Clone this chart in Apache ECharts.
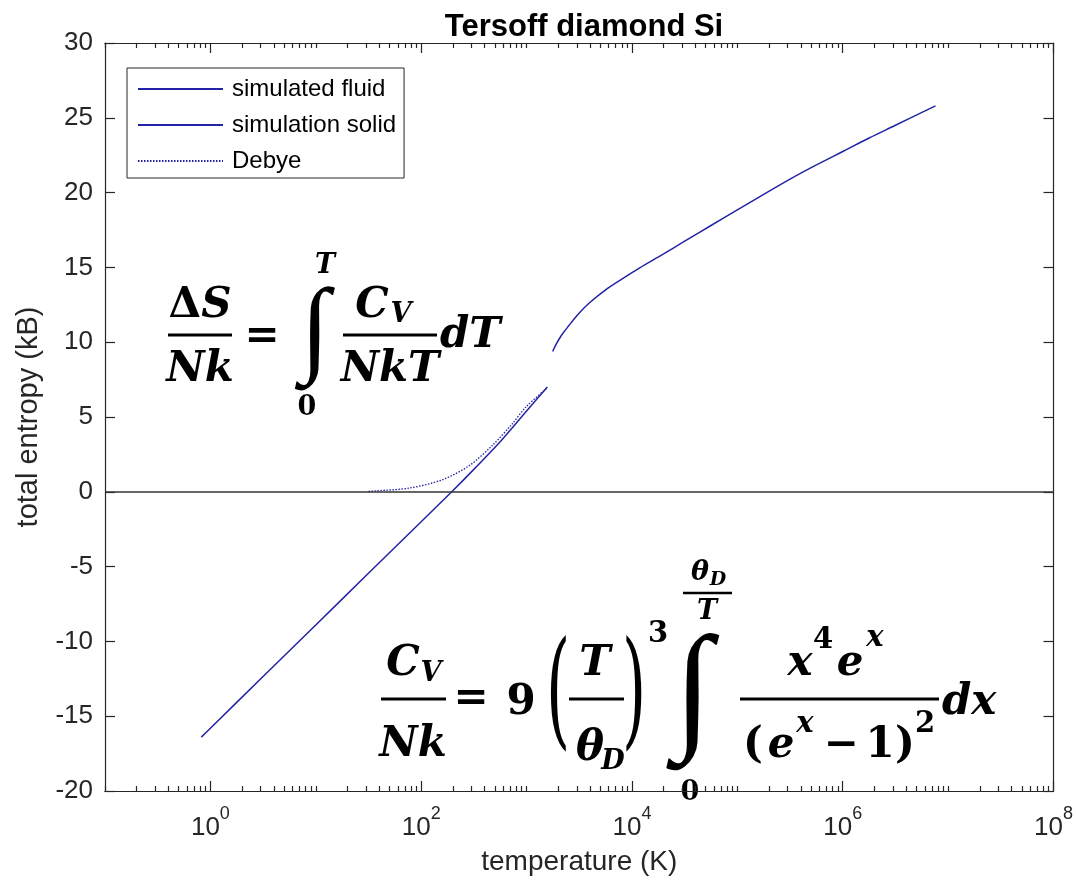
<!DOCTYPE html>
<html>
<head>
<meta charset="utf-8">
<script src="https://cdn.jsdelivr.net/npm/echarts@6/dist/echarts.min.js"></script>
<style>
  html, body { margin: 0; padding: 0; background: #fff; }
  #chart { width: 1076px; height: 892px; }
</style>
</head>
<body>
<div id="chart"></div>
<script>
// Temperature (K) and total entropy (kB) of each curve
const solidT = [0.82, 1, 3.16, 10, 31.6, 100, 195, 316, 562, 1000, 1575];
const solidS = [-16.4, -15.8, -12.35, -8.9, -5.45, -2.0, 0, 1.5, 3.35, 5.4, 7.0];

const fluidT = [1770, 1905, 2138, 2512, 3162, 3981, 5623, 7943, 11749, 19953, 31623, 56234, 100000,
                177828, 316228, 562341, 1000000, 1778279, 3162278, 7585776];
const fluidS = [9.38, 9.85, 10.45, 11.1, 11.95, 12.65, 13.5, 14.2, 14.95, 15.9, 16.75, 17.8, 18.85,
                19.88, 20.9, 21.85, 22.75, 23.65, 24.5, 25.8];

const debyeT = [31.6, 38.5, 77.6, 158, 286, 473, 733, 995, 1574];
const debyeS = [0.03, 0.07, 0.25, 0.8, 1.75, 3.1, 4.55, 5.7, 6.95];

// Axis extents: x in decades (log10 of temperature), y in kB
const xDecadeMin = -1;
const xDecadeMax = 8;
const xLabelExponents = [0, 2, 4, 6, 8];
const yMin = -20;
const yMax = 30;
const yStep = 5;

const seriesNames = ['simulated fluid', 'simulation solid', 'Debye'];
const titleText = 'Tersoff diamond Si';
const xTitle = 'temperature (K)';
const yTitle = 'total entropy (kB)';

const AXIS_COLOR = '#262626';
const LINE_COLOR = '#2323a6';
const SANS = '"Liberation Sans", Arial, Helvetica, sans-serif';
const EQ_FONT = '"DejaVu Serif", serif';
const INT_FONT = '"Liberation Serif", serif';

const toXY = (ts, ss) => ts.map((t, i) => [Math.log10(t), ss[i]]);

// Major ticks at labelled decades, minor ticks at every k*10^n elsewhere
const majorTicks = xLabelExponents.slice();
const minorTicks = [];
for (let n = xDecadeMin; n < xDecadeMax; n++) {
  for (let k = 1; k <= 9; k++) {
    const v = n + Math.log10(k);
    if (k === 1 && majorTicks.includes(n)) continue;
    minorTicks.push(v);
  }
}

function xAxisDef(position, ticks, len, withLabels) {
  return {
    type: 'value',
    position: position,
    min: xDecadeMin,
    max: xDecadeMax,
    interval: 1,
    axisLine: { show: true, onZero: false, lineStyle: { color: AXIS_COLOR, width: 1.2 } },
    axisTick: { show: true, inside: true, length: len, customValues: ticks, lineStyle: { color: AXIS_COLOR, width: 1.2 } },
    axisLabel: withLabels ? {
      show: true,
      customValues: xLabelExponents,
      margin: 14,
      formatter: v => '{b|10}{s|' + Math.round(v) + '}',
      rich: {
        b: { fontFamily: SANS, fontSize: 26, color: AXIS_COLOR, verticalAlign: 'bottom', lineHeight: 26 },
        s: { fontFamily: SANS, fontSize: 18, color: AXIS_COLOR, verticalAlign: 'top', lineHeight: 36 }
      }
    } : { show: false },
    splitLine: { show: false },
    name: withLabels ? xTitle : '',
    nameLocation: 'middle',
    nameGap: 57,
    nameTextStyle: { fontFamily: SANS, fontSize: 28, color: AXIS_COLOR }
  };
}

function yAxisDef(position, withLabels) {
  return {
    type: 'value',
    position: position,
    min: yMin,
    max: yMax,
    interval: yStep,
    axisLine: { show: true, onZero: false, lineStyle: { color: AXIS_COLOR, width: 1.2 } },
    axisTick: { show: true, inside: true, length: 10, lineStyle: { color: AXIS_COLOR, width: 1.2 } },
    axisLabel: withLabels ? { show: true, margin: 12, fontFamily: SANS, fontSize: 26, color: AXIS_COLOR } : { show: false },
    splitLine: { show: false },
    name: withLabels ? yTitle : '',
    nameLocation: 'middle',
    nameGap: 62,
    nameTextStyle: { fontFamily: SANS, fontSize: 29, color: AXIS_COLOR }
  };
}

// ---- Equation text, built from positioned pieces ----
function txt(str, x, y, size, italic, align, weight, family) {
  return {
    type: 'text', x: x, y: y, silent: true,
    style: {
      text: str,
      font: (italic ? 'italic ' : '') + (weight || 'bold') + ' ' + size + 'px ' + (family || EQ_FONT),
      fill: '#000',
      align: align || 'center',
      verticalAlign: 'middle'
    }
  };
}
function bar(x1, x2, y, h) {
  return { type: 'rect', silent: true, shape: { x: x1, y: y - (h || 3) / 2, width: x2 - x1, height: h || 3 }, style: { fill: '#000' } };
}
function stretched(str, x, y, size, sy) {
  const el = txt(str, x, y, size, false, 'center', 'normal');
  el.scaleY = sy;
  return el;
}
function integral(x, y, size) {
  return txt('∫', x, y, size, false, 'center', 'normal', INT_FONT);
}

const BASE = 42, SUB = 27, LIM = 27;
const DY = 4;
const equations = [
  // dS/Nk = integral_0^T Cv/(NkT) dT
  { type: 'text', x: 200, y: 302 + DY, silent: true, style: { text: '{u|Δ}{i|S}', align: 'center', verticalAlign: 'middle',
      rich: { u: { font: 'bold ' + BASE + 'px ' + EQ_FONT, fill: '#000' }, i: { font: 'italic bold ' + BASE + 'px ' + EQ_FONT, fill: '#000' } } } },
  bar(168, 232, 335),
  txt('Nk', 200, 366 + DY, BASE, true),
  txt('=', 262, 337, BASE, false),
  integral(315, 334, 106),
  txt('T', 325, 266, LIM, true),
  txt('0', 307, 408, LIM, false),
  txt('C', 372, 302 + DY, BASE, true),
  txt('V', 401, 311 + DY, SUB, true),
  bar(343, 437, 335),
  txt('NkT', 390, 366 + DY, BASE, true),
  txt('dT', 440, 332 + DY, BASE, true, 'left'),

  // Cv/Nk = 9 (T/thetaD)^3 integral_0^{thetaD/T} x^4 e^x/(e^x-1)^2 dx
  txt('C', 403, 660 + DY, BASE, true),
  txt('V', 431, 670 + DY, SUB, true),
  bar(381, 446, 699),
  txt('Nk', 413, 741 + DY, BASE, true),
  txt('=', 471, 699, BASE, false),
  txt('9', 521, 699 + DY, BASE, false),
  stretched('(', 558, 699, 62, 2.05),
  txt('T', 595, 660 + DY, BASE, true),
  bar(569, 624, 699),
  txt('θ', 590, 745 + DY, BASE, true),
  txt('D', 613, 758 + DY, SUB, true),
  stretched(')', 634, 699, 62, 2.05),
  txt('3', 658, 634, 29, false),
  integral(693, 696, 140),
  txt('θ', 700, 573, LIM, true),
  txt('D', 718, 580, 19, true),
  bar(683, 732, 593, 2.5),
  txt('T', 707, 612, LIM, true),
  txt('0', 690, 793, LIM, false),
  txt('x', 800, 660 + DY, BASE, true),
  txt('4', 823, 640, 29, false),
  txt('e', 850, 660 + DY, BASE, true),
  txt('x', 875, 638, 29, true),
  bar(740, 939, 699),
  txt('(', 753, 742 + DY, BASE, false),
  txt('e', 781, 742 + DY, BASE, true),
  txt('x', 805, 724, 29, true),
  txt('−', 841, 742 + DY, BASE, false),
  txt('1', 880, 742 + DY, BASE, false),
  txt(')', 905, 742 + DY, BASE, false),
  txt('2', 925, 724, 29, false),
  txt('dx', 942, 699 + DY, BASE, true, 'left')
];

const chart = echarts.init(document.getElementById('chart'), null, { renderer: 'canvas' });

chart.setOption({
  backgroundColor: '#fff',
  animation: false,
  title: {
    text: titleText,
    left: 579,
    textAlign: 'center',
    top: 7,
    textStyle: { fontFamily: SANS, fontSize: 31, fontWeight: 'bold', color: '#000' }
  },
  grid: { left: 105, right: 22, top: 43, bottom: 101, containLabel: false },
  legend: {
    orient: 'vertical',
    left: 127,
    top: 68,
    padding: [9, 8, 5, 10],
    itemWidth: 85,
    itemHeight: 20,
    itemGap: 12,
    backgroundColor: '#fff',
    borderColor: AXIS_COLOR,
    borderWidth: 1,
    borderRadius: 0,
    selectedMode: false,
    data: seriesNames,
    itemStyle: { color: 'rgba(0,0,0,0)', borderColor: 'rgba(0,0,0,0)', borderWidth: 0, opacity: 0 },
    textStyle: { fontFamily: SANS, fontSize: 24, color: '#000', padding: [0, 0, 0, 4] }
  },
  xAxis: [
    xAxisDef('bottom', majorTicks, 10, true),
    xAxisDef('bottom', minorTicks, 5, false),
    xAxisDef('top', majorTicks, 10, false),
    xAxisDef('top', minorTicks, 5, false)
  ],
  yAxis: [
    yAxisDef('left', true),
    yAxisDef('right', false)
  ],
  series: [
    {
      name: seriesNames[0], type: 'line', xAxisIndex: 0, yAxisIndex: 0,
      data: toXY(fluidT, fluidS), symbol: 'none', smooth: 0.35,
      lineStyle: { color: LINE_COLOR, width: 1.5 }, itemStyle: { color: LINE_COLOR }, z: 3
    },
    {
      name: seriesNames[1], type: 'line', xAxisIndex: 0, yAxisIndex: 0,
      data: toXY(solidT, solidS), symbol: 'none', smooth: 0.2,
      lineStyle: { color: LINE_COLOR, width: 1.5 }, itemStyle: { color: LINE_COLOR }, z: 3,
      markLine: {
        silent: true, symbol: 'none', animation: false,
        label: { show: false },
        lineStyle: { color: '#333', width: 1.6, type: 'solid' },
        emphasis: { disabled: true },
        data: [{ yAxis: 0 }]
      }
    },
    {
      name: seriesNames[2], type: 'line', xAxisIndex: 0, yAxisIndex: 0,
      data: toXY(debyeT, debyeS), symbol: 'none', smooth: 0.3,
      lineStyle: { color: LINE_COLOR, width: 1.3, type: [1.5, 1.5] }, itemStyle: { color: LINE_COLOR }, z: 2
    }
  ],
  graphic: { elements: equations }
});
</script>
</body>
</html>
